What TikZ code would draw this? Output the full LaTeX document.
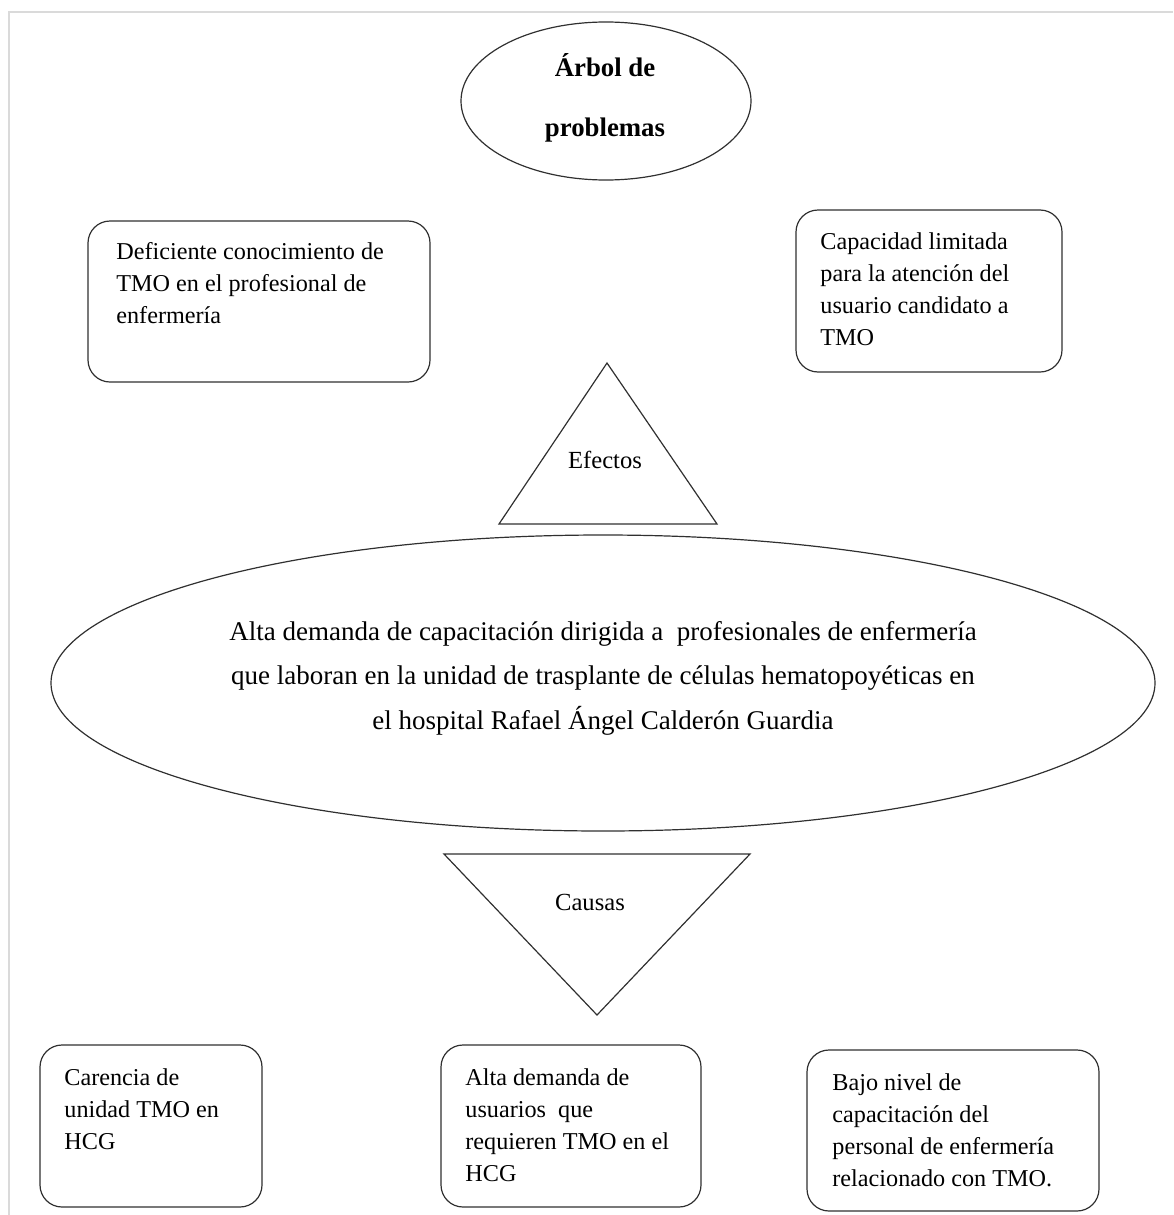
\documentclass[tikz,border=0pt]{standalone}
\usepackage{fontspec}
\setmainfont{Liberation Serif}
\usetikzlibrary{shapes.geometric}
\definecolor{framegray}{HTML}{DADADA}
\definecolor{inkgray}{HTML}{303030}
\tikzset{
  shapeline/.style={draw=inkgray, line width=0.6pt},
  probbox/.style={shapeline, rounded corners=11pt, inner sep=0pt},
  boxtext/.style={anchor=north west, inner sep=0pt, align=left, font=\fontsize{12.1}{16}\selectfont},
  labeltext/.style={inner sep=0pt, font=\fontsize{12.3}{16}\selectfont}
}
\begin{document}
\begin{tikzpicture}[x=0.5pt,y=-0.5pt]
\useasboundingbox (0,0) rectangle (1173,1215);
% page frame
\draw[framegray, line width=1pt] (9,1215) -- (9,12) -- (1173,12);

% title ellipse
\node[shapeline, ellipse, minimum width=145pt, minimum height=79pt, inner sep=0pt] (title) at (606,101) {};
\node[anchor=north, inner sep=0pt, align=center, font=\fontsize{13.4}{30}\selectfont\bfseries] (titletext) at (605,34) {\strut Árbol de\\problemas\strut};

% effects boxes
\node[probbox, minimum width=171pt, minimum height=80.5pt] (e1) at (259,301.5) {};
\node[boxtext] (e1t) at (116,236.6) {\strut Deficiente conocimiento de\\TMO en el profesional de\\enfermería};

\node[probbox, minimum width=133pt, minimum height=81pt] (e2) at (929,291) {};
\node[boxtext] (e2t) at (820,226.6) {\strut Capacidad limitada\\para la atención del\\usuario candidato a\\TMO};

% effects triangle
\coordinate (efA) at (607,363);
\coordinate (efB) at (717,524);
\coordinate (efC) at (499,524);
\draw[shapeline, line join=miter] (efA) -- (efB) -- (efC) -- cycle;
\node[labeltext, anchor=base] (eflabel) at (605,468) {Efectos};

% central problem
\node[shapeline, ellipse, minimum width=552pt, minimum height=148pt, inner sep=0pt] (core) at (603,683) {};
\node[anchor=north, inner sep=0pt, align=center, font=\fontsize{13.5}{22.25}\selectfont] (coretext) at (603,608.85) {\strut Alta demanda de capacitación dirigida a\ \ profesionales de enfermería\\que laboran en la unidad de trasplante de células hematopoyéticas en\\el hospital Rafael Ángel Calderón Guardia};

% causes triangle
\coordinate (caA) at (444,854);
\coordinate (caB) at (750,854);
\coordinate (caC) at (597,1015);
\draw[shapeline, line join=miter] (caA) -- (caB) -- (caC) -- cycle;
\node[labeltext, anchor=base] (calabel) at (590,910) {Causas};

% causes boxes
\node[probbox, minimum width=111pt, minimum height=81pt] (c1) at (151,1126) {};
\node[boxtext] (c1t) at (64,1062.6) {\strut Carencia de\\unidad TMO en\\HCG};

\node[probbox, minimum width=130pt, minimum height=81pt] (c2) at (571,1126) {};
\node[boxtext] (c2t) at (465,1062.6) {\strut Alta demanda de\\usuarios\ \ que\\requieren TMO en el\\HCG};

\node[probbox, minimum width=146pt, minimum height=80.5pt] (c3) at (953,1130.5) {};
\node[boxtext] (c3t) at (832,1067.6) {\strut Bajo nivel de\\capacitación del\\personal de enfermería\\relacionado con TMO.};
\end{tikzpicture}
\end{document}
